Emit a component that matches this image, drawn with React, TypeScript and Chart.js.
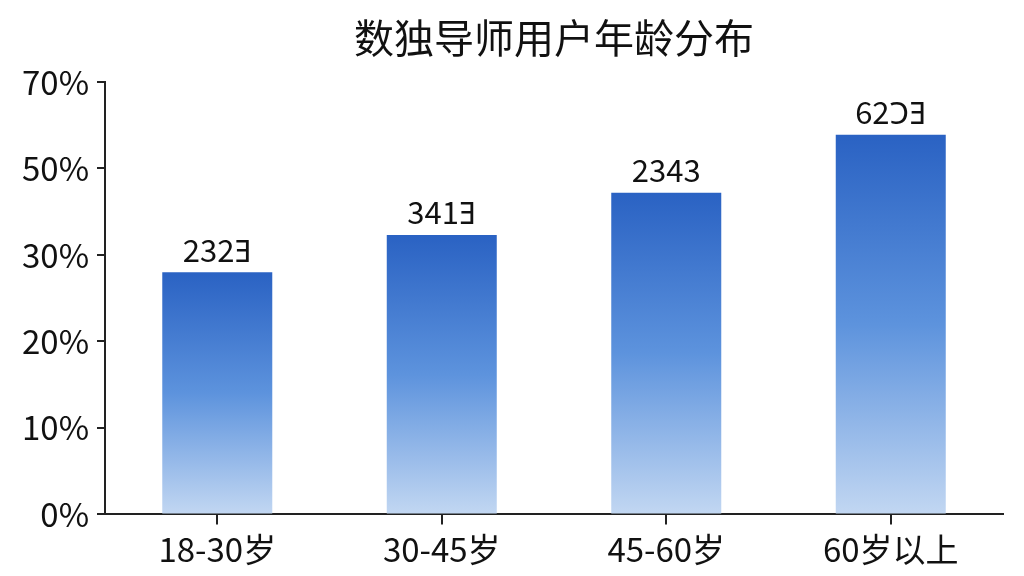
import { useEffect, useRef } from 'react';
import { Chart, ChartConfiguration, registerables } from 'chart.js';

Chart.register(...registerables);

const chartTitle = '数独导师用户年龄分布';
const ageGroups = ['18-30岁', '30-45岁', '45-60岁', '60岁以上'];
// bar heights in axis steps (one step per tick label)
const barValues = [2.8, 3.23, 3.72, 4.39];
const barLabels = ['232Ǝ', '341Ǝ', '2343', '62ϽƎ'];
const yTickLabels = ['0%', '10%', '20%', '30%', '50%', '70%'];

const FONT = '"Noto Sans CJK SC", "Noto Sans", sans-serif';

const titlePlugin = {
  id: 'centerTitle',
  afterDraw(chart: Chart) {
    const { ctx, chartArea } = chart;
    ctx.save();
    ctx.font = `400 40px ${FONT}`;
    ctx.fillStyle = '#111';
    ctx.textAlign = 'center';
    ctx.textBaseline = 'middle';
    ctx.fillText(chartTitle, (chartArea.left + chartArea.right) / 2, 38);
    ctx.restore();
  }
};

const valueLabelPlugin = {
  id: 'valueLabels',
  afterDatasetsDraw(chart: Chart) {
    const { ctx } = chart;
    const meta = chart.getDatasetMeta(0);
    ctx.save();
    ctx.font = `31px ${FONT}`;
    ctx.fillStyle = '#111';
    ctx.textAlign = 'center';
    ctx.textBaseline = 'bottom';
    meta.data.forEach((bar: any, i: number) => {
      ctx.fillText(barLabels[i], bar.x, bar.y - 7);
    });
    ctx.restore();
  }
};

export default function App() {
  const canvasRef = useRef<HTMLCanvasElement>(null);
  const chartRef = useRef<Chart | null>(null);

  useEffect(() => {
    if (!canvasRef.current) return;
    if (chartRef.current) chartRef.current.destroy();
    const ctx = canvasRef.current.getContext('2d');
    if (!ctx) return;

    const config: ChartConfiguration = {
      type: 'bar',
      data: {
        labels: ageGroups,
        datasets: [{
          data: barValues,
          backgroundColor: (context: any) => {
            const chart = context.chart;
            const { chartArea, scales } = chart;
            if (!chartArea || !scales.y) return '#3d78d4';
            const top = scales.y.getPixelForValue(context.raw);
            const bottom = scales.y.getPixelForValue(0);
            const g = chart.ctx.createLinearGradient(0, top, 0, bottom);
            g.addColorStop(0, '#2a62c3');
            g.addColorStop(0.5, '#5d93dd');
            g.addColorStop(1, '#c2d7f2');
            return g;
          },
          borderWidth: 0,
          barPercentage: 0.49,
          categoryPercentage: 1
        }]
      },
      options: {
        animation: false,
        responsive: true,
        maintainAspectRatio: false,
        layout: {
          padding: { top: 82, right: 21, left: 14, bottom: 2 }
        },
        plugins: {
          legend: { display: false },
          title: { display: false },
          tooltip: { enabled: false }
        },
        scales: {
          x: {
            grid: {
              display: true,
              drawOnChartArea: false,
              drawTicks: true,
              tickLength: 10,
              offset: false,
              color: '#222',
              lineWidth: 2
            },
            border: { display: true, color: '#222', width: 2 },
            ticks: {
              color: '#111',
              padding: 5,
              font: { family: FONT, size: 33 }
            }
          },
          y: {
            min: 0,
            max: 5,
            grid: {
              display: true,
              drawOnChartArea: false,
              drawTicks: true,
              tickLength: 8,
              color: '#222',
              lineWidth: 2
            },
            border: { display: true, color: '#222', width: 2 },
            ticks: {
              stepSize: 1,
              color: '#111',
              padding: 8,
              font: { family: FONT, size: 33 },
              callback: (_value: any, index: number) => yTickLabels[index]
            }
          }
        }
      },
      plugins: [titlePlugin, valueLabelPlugin]
    };

    chartRef.current = new Chart(ctx, config);

    return () => {
      if (chartRef.current) {
        chartRef.current.destroy();
        chartRef.current = null;
      }
    };
  }, []);

  return (
    <div style={{ position: 'fixed', left: 0, top: 0, width: 1024, height: 576, background: '#fff' }}>
      <canvas ref={canvasRef}></canvas>
    </div>
  );
}
